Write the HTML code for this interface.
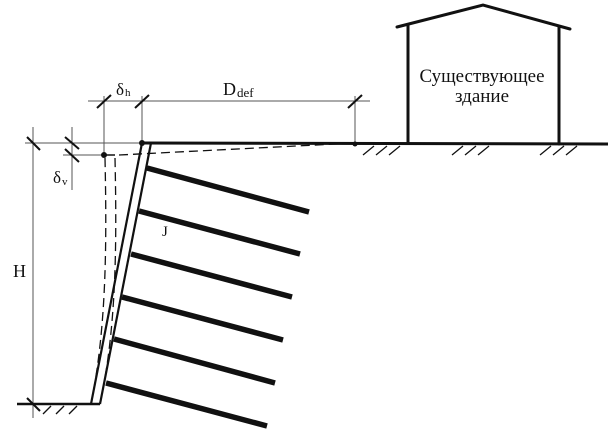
<!DOCTYPE html>
<html>
<head>
<meta charset="utf-8">
<style>
html,body{margin:0;padding:0;background:#fff;}
svg{display:block;}
text{font-family:"Liberation Serif","DejaVu Serif",serif;fill:#111;}
</style>
</head>
<body>
<svg width="616" height="440" viewBox="0 0 616 440" xmlns="http://www.w3.org/2000/svg">
<rect width="616" height="440" fill="#fff"/>

<!-- thin dimension / extension lines -->
<g stroke="#555" stroke-width="1" fill="none">
  <line x1="33" y1="127" x2="33" y2="418"/>
  <line x1="72" y1="127" x2="72" y2="190"/>
  <line x1="25" y1="143" x2="142" y2="143"/>
  <line x1="63" y1="155" x2="104" y2="155"/>
  <line x1="104" y1="96" x2="104" y2="155"/>
  <line x1="142" y1="96" x2="142" y2="143"/>
  <line x1="355" y1="96" x2="355" y2="144"/>
  <line x1="88" y1="101" x2="370" y2="101"/>
</g>

<!-- ticks -->
<g stroke="#111" stroke-width="2" fill="none">
  <line x1="27" y1="137" x2="40" y2="150"/>
  <line x1="65" y1="137" x2="79" y2="149"/>
  <line x1="65" y1="149" x2="79" y2="162"/>
  <line x1="27" y1="398" x2="40" y2="411"/>
  <line x1="97" y1="108" x2="111" y2="95"/>
  <line x1="135" y1="108" x2="149" y2="95"/>
  <line x1="348" y1="108" x2="362" y2="95"/>
</g>

<!-- ground lines -->
<g stroke="#111" fill="none">
  <line x1="142" y1="143" x2="608" y2="144" stroke-width="3"/>
  <line x1="17" y1="404" x2="100" y2="404" stroke-width="2.5"/>
</g>

<!-- hatches -->
<g stroke="#111" stroke-width="1.3" fill="none">
  <line x1="363" y1="155" x2="374" y2="146"/>
  <line x1="376" y1="155" x2="387" y2="146"/>
  <line x1="389" y1="155" x2="400" y2="146"/>
  <line x1="452" y1="155" x2="463" y2="146"/>
  <line x1="465" y1="155" x2="476" y2="146"/>
  <line x1="478" y1="155" x2="489" y2="146"/>
  <line x1="540" y1="155" x2="551" y2="146"/>
  <line x1="553" y1="155" x2="564" y2="146"/>
  <line x1="566" y1="155" x2="577" y2="146"/>
  <line x1="43" y1="414" x2="51" y2="406"/>
  <line x1="56" y1="414" x2="64" y2="406"/>
  <line x1="69" y1="414" x2="77" y2="406"/>
</g>

<!-- house -->
<g stroke="#111" stroke-width="3" fill="none" stroke-linecap="round">
  <polyline points="397,27 483,5 570,29"/>
  <line x1="408" y1="25" x2="408" y2="143"/>
  <line x1="559" y1="27" x2="559" y2="144"/>
</g>
<text x="482" y="82" font-size="19" text-anchor="middle" textLength="125" lengthAdjust="spacingAndGlyphs">Существующее</text>
<text x="482" y="102" font-size="19" text-anchor="middle">здание</text>

<!-- deformed (dashed) wall & surface -->
<g stroke="#111" stroke-width="1.3" fill="none" stroke-dasharray="9,5">
  <path d="M105,158 C107,250 106,330 91,404"/>
  <path d="M115,158 C117,250 116,330 100,404"/>
  <line x1="119" y1="155" x2="355" y2="143"/>
</g>
<line x1="104" y1="155" x2="115" y2="155" stroke="#111" stroke-width="1.5"/>

<!-- wall -->
<g stroke="#111" stroke-width="2.2" fill="none">
  <line x1="142" y1="143" x2="91" y2="404"/>
  <line x1="151" y1="143" x2="100" y2="404"/>
</g>

<!-- anchors -->
<g stroke="#111" stroke-width="5.5" fill="none">
  <line x1="147" y1="168" x2="309" y2="212"/>
  <line x1="139" y1="211" x2="300" y2="254"/>
  <line x1="131" y1="254" x2="292" y2="297"/>
  <line x1="122" y1="297" x2="283" y2="340"/>
  <line x1="114" y1="339" x2="275" y2="383"/>
  <line x1="106" y1="383" x2="267" y2="426"/>
</g>

<!-- dots -->
<g fill="#111">
  <circle cx="142" cy="143" r="3"/>
  <circle cx="104" cy="155" r="3"/>
  <circle cx="355" cy="144" r="2.5"/>
</g>

<!-- labels -->
<text x="116" y="95" font-size="17">δ</text>
<text x="125" y="96" font-size="11">h</text>
<text x="223" y="95" font-size="18">D</text>
<text x="237" y="97" font-size="13">def</text>
<text x="53" y="183" font-size="17">δ</text>
<text x="62" y="185" font-size="11">v</text>
<text x="13" y="277" font-size="18">H</text>
<text x="162" y="236" font-size="15">J</text>
</svg>
</body>
</html>
